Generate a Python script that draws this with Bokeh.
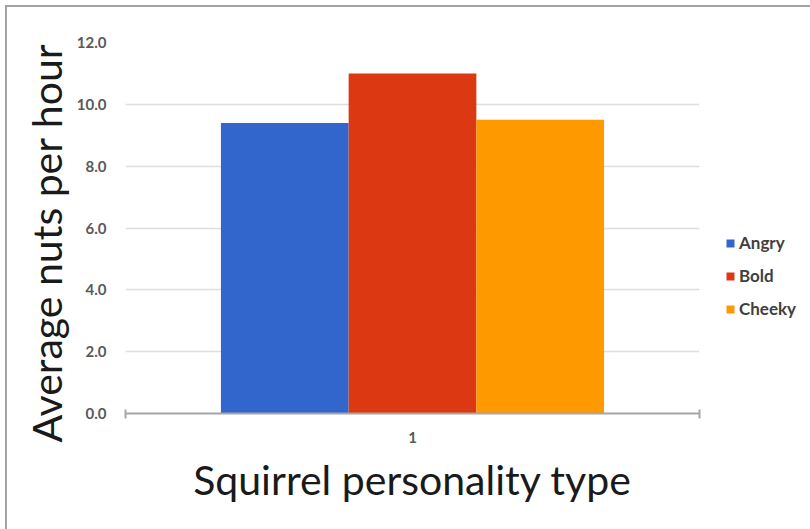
from bokeh.plotting import figure
from bokeh.models import (ColumnDataSource, Range1d, FixedTicker, PrintfTickFormatter,
                          Legend, LegendItem, Title)
from bokeh.embed import file_html
from bokeh.resources import INLINE

# Data
group_label = "1"
categories = ["Angry", "Bold", "Cheeky"]
values = [9.4, 11.0, 9.5]
colors = ["#3366cc", "#dc3912", "#ff9900"]
y_ticks = [0, 2, 4, 6, 8, 10, 12]

FONT = "Lato"
bar_width = 0.2225
centers = [0.5 + (i - (len(categories) - 1) / 2) * bar_width for i in range(len(categories))]

p = figure(
    frame_width=574, frame_height=371,
    x_range=Range1d(0, 1), y_range=Range1d(0, 12),
    output_backend="svg", toolbar_location=None,
    min_border_left=118, min_border_top=35, min_border_right=0, min_border_bottom=116,
    margin=(5, 0, 0, 5),
)
p.styles = {
    "border-top": "2px solid #a3a3a3",
    "border-left": "2px solid #a3a3a3",
    "border-bottom": "1px solid #e3e3e3",
}
p.outline_line_color = None

renderers = []
for name, x, v, c in zip(categories, centers, values, colors):
    src = ColumnDataSource(dict(x=[x], top=[v]))
    r = p.vbar(x="x", top="top", width=bar_width, bottom=0, source=src,
               fill_color=c, line_color=None)
    renderers.append((name, r))

# y axis
p.yaxis.ticker = FixedTicker(ticks=y_ticks)
p.yaxis.formatter = PrintfTickFormatter(format="%.1f")
p.yaxis.axis_line_color = None
p.yaxis.major_tick_line_color = None
p.yaxis.minor_tick_line_color = None
p.yaxis.major_label_text_font = FONT
p.yaxis.major_label_text_font_size = "15px"
p.yaxis.major_label_text_font_style = "bold"
p.yaxis.major_label_text_color = "#595959"
p.yaxis.major_label_standoff = 13

# y axis title, set as a left-side title so it can start below the frame bottom
ytitle = Title(text="Average nuts per hour", align="left", offset=-29,
               text_font=FONT, text_font_size="41px", text_font_style="normal",
               text_color="#1a1a1a", standoff=6)
p.add_layout(ytitle, "left")

# x axis: one group label, boundary ticks at both ends
p.xaxis.ticker = FixedTicker(ticks=[0.5], minor_ticks=[0, 1])
p.xaxis.major_label_overrides = {0.5: group_label}
p.xaxis.major_tick_line_color = None
p.xaxis.minor_tick_line_color = "#a6a6a6"
p.xaxis.minor_tick_line_width = 2
p.xaxis.minor_tick_in = 4
p.xaxis.minor_tick_out = 5
p.xaxis.axis_line_color = "#a6a6a6"
p.xaxis.axis_line_width = 2
p.xaxis.major_label_text_font = FONT
p.xaxis.major_label_text_font_size = "15px"
p.xaxis.major_label_text_font_style = "bold"
p.xaxis.major_label_text_color = "#595959"
p.xaxis.major_label_standoff = 12
p.xaxis.axis_label = "Squirrel personality type"
p.xaxis.axis_label_text_font = FONT
p.xaxis.axis_label_text_font_size = "41px"
p.xaxis.axis_label_text_font_style = "normal"
p.xaxis.axis_label_text_color = "#1a1a1a"
p.xaxis.axis_label_standoff = 9

p.xgrid.grid_line_color = None
p.ygrid.ticker = FixedTicker(ticks=y_ticks)
p.ygrid.grid_line_color = "#dedede"
p.ygrid.grid_line_width = 1.5

legend = Legend(
    items=[LegendItem(label=n, renderers=[r]) for n, r in renderers],
    location=(26, 94),
    glyph_width=10, glyph_height=10,
    label_text_font=FONT, label_text_font_size="17px",
    label_text_font_style="bold", label_text_color="#404040",
    label_standoff=4, spacing=12, padding=6, margin=0,
    border_line_color=None, background_fill_alpha=0,
)
p.add_layout(legend, "right")

open("out.html", "w").write(file_html(p, INLINE))
